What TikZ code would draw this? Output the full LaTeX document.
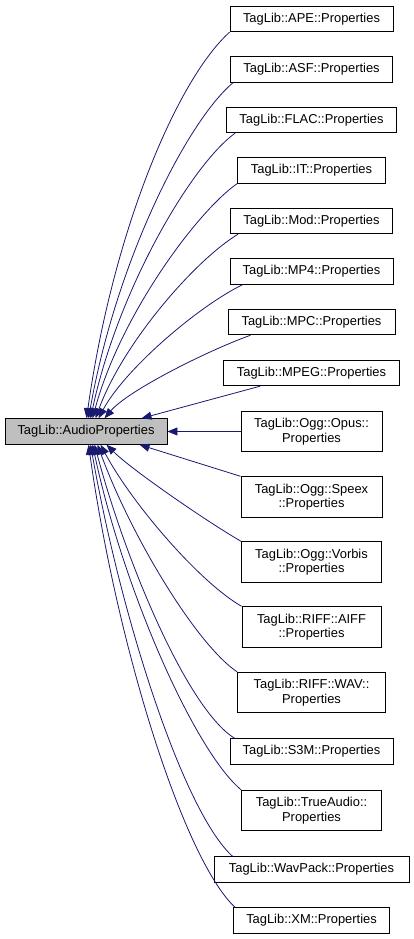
\documentclass[tikz,border=0pt]{standalone}
\usepackage{fontspec}
\setmainfont{Liberation Sans}
\usetikzlibrary{arrows.meta}

\definecolor{navyedge}{RGB}{25,25,112}
\definecolor{basegray}{RGB}{191,191,191}

\begin{document}
\begin{tikzpicture}[x=1pt, y=1pt,
    % class boxes and inheritance arrows
    audio/.style={rectangle, draw=black, fill=basegray, line width=0.9pt, minimum width=162pt, minimum height=25.5pt, inner sep=0pt, font=\fontsize{12.9}{14.5}\selectfont},
    props/.style={rectangle, draw=black, fill=white, line width=0.9pt, minimum height=25.5pt, inner sep=0pt, align=center, font=\fontsize{12.9}{14.5}\selectfont},
    twoline/.style={props, minimum height=40.5pt},
    inheritance/.style={draw=navyedge, line width=0.8pt, -{Triangle[length=10pt, width=8pt]}}
]

\useasboundingbox (0,0) rectangle (413,-939);

% Base class
\node[audio] (audio) at (86, -431.5) {TagLib::AudioProperties};

% Derived classes - one column
\node[props, minimum width=163pt] (ape) at (311.5, -19) {TagLib::APE::Properties};
\node[props, minimum width=162pt] (asf) at (311.5, -69.5) {TagLib::ASF::Properties};
\node[props, minimum width=170pt] (flac) at (311.5, -120) {TagLib::FLAC::Properties};
\node[props, minimum width=148pt] (it) at (311.5, -170.5) {TagLib::IT::Properties};
\node[props, minimum width=162pt] (mod) at (311.5, -221) {TagLib::Mod::Properties};
\node[props, minimum width=163pt] (mp4) at (311.5, -271.5) {TagLib::MP4::Properties};
\node[props, minimum width=167pt] (mpc) at (311.5, -322) {TagLib::MPC::Properties};
\node[props, minimum width=176pt] (mpeg) at (311.5, -373) {TagLib::MPEG::Properties};
\node[twoline, minimum width=141pt] (opus) at (311.5, -431.5) {TagLib::Ogg::Opus::\\Properties};
\node[twoline, minimum width=141pt] (speex) at (311.5, -497) {TagLib::Ogg::Speex\\::Properties};
\node[twoline, minimum width=140pt] (vorbis) at (311.5, -562) {TagLib::Ogg::Vorbis\\::Properties};
\node[twoline, minimum width=139pt] (aiff) at (311.5, -627) {TagLib::RIFF::AIFF\\::Properties};
\node[twoline, minimum width=148pt] (wav) at (311.5, -692.5) {TagLib::RIFF::WAV::\\Properties};
\node[props, minimum width=163pt] (s3m) at (311.5, -751.5) {TagLib::S3M::Properties};
\node[twoline, minimum width=140pt] (trueaudio) at (311.5, -810.5) {TagLib::TrueAudio::\\Properties};
\node[props, minimum width=195pt] (wavpack) at (311.5, -869.5) {TagLib::WavPack::Properties};
\node[props, minimum width=156pt] (xm) at (311.5, -920.5) {TagLib::XM::Properties};

% Upper arrows - into the top of the base
\draw[inheritance] (ape.south west) to[out=222, in=82, out distance=70pt, in distance=190pt] ([xshift=82pt]audio.north west);
\draw[inheritance] ([xshift=3pt]asf.south west) to[out=220, in=80, out distance=60pt, in distance=160pt] ([xshift=84pt]audio.north west);
\draw[inheritance] ([xshift=9pt]flac.south west) to[out=216, in=78, out distance=55pt, in distance=130pt] ([xshift=86pt]audio.north west);
\draw[inheritance] (it.south west) to[out=215, in=75, out distance=50pt, in distance=105pt] ([xshift=88pt]audio.north west);
\draw[inheritance] ([xshift=8pt]mod.south west) to[out=211, in=70, out distance=50pt, in distance=80pt] ([xshift=91pt]audio.north west);
\draw[inheritance] ([xshift=13pt]mp4.south west) to[out=206, in=62, out distance=50pt, in distance=55pt] ([xshift=94pt]audio.north west);
\draw[inheritance] ([xshift=23pt]mpc.south west) to[out=200, in=50, out distance=50pt, in distance=35pt] ([xshift=100pt]audio.north west);
\draw[inheritance] ([xshift=37pt]mpeg.south west) -- ([xshift=137pt]audio.north west);

% Middle arrow
\draw[inheritance] (opus.west) -- (audio.east);

% Lower arrows - into the bottom of the base
\draw[inheritance] (speex.north west) -- ([xshift=135pt]audio.south west);
\draw[inheritance] (vorbis.north west) to[out=150, in=315, out distance=40pt, in distance=35pt] ([xshift=102pt]audio.south west);
\draw[inheritance] (aiff.north west) to[out=150, in=298, out distance=50pt, in distance=65pt] ([xshift=96pt]audio.south west);
\draw[inheritance] (wav.north west) to[out=146, in=290, out distance=50pt, in distance=95pt] ([xshift=93pt]audio.south west);
\draw[inheritance] ([xshift=5pt]s3m.north west) to[out=148, in=285, out distance=55pt, in distance=125pt] ([xshift=90pt]audio.south west);
\draw[inheritance] (trueaudio.north west) to[out=140, in=282, out distance=60pt, in distance=150pt] ([xshift=88pt]audio.south west);
\draw[inheritance] ([xshift=19pt]wavpack.north west) to[out=138, in=280, out distance=65pt, in distance=180pt] ([xshift=86pt]audio.south west);
\draw[inheritance] ([xshift=2pt]xm.north west) to[out=137, in=278, out distance=70pt, in distance=205pt] ([xshift=84pt]audio.south west);

\end{tikzpicture}
\end{document}
